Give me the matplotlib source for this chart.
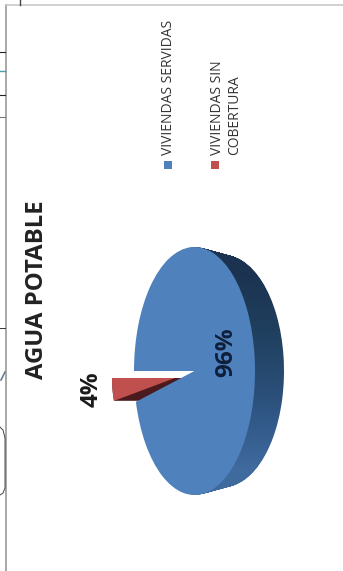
import numpy as np
import matplotlib
matplotlib.use('Agg')
import matplotlib.pyplot as plt
from matplotlib.path import Path
from matplotlib.patches import Rectangle
from matplotlib.transforms import Affine2D

# data
shares = [4, 96]
share_labels = ['4%', '96%']
legend_labels = ['VIVIENDAS SERVIDAS', 'VIVIENDAS SIN\nCOBERTURA']
title = 'AGUA POTABLE'

plt.rcParams['font.family'] = ['Open Sans', 'DejaVu Sans']

fig = plt.figure(figsize=(3.43, 5.71), dpi=100)
ax = fig.add_axes([0, 0, 1, 1])


def pie_at(cx, cy, rx, ry, colors, z):
    # draw the pie then squash it into an ellipse, pixel units (y axis points down)
    wedges, _ = ax.pie(shares, startangle=180, counterclock=False, colors=colors)
    tr = Affine2D().scale(rx, ry).translate(cx, cy)
    for w in wedges:
        w.set_transform(tr + ax.transData)
        w.set_zorder(z)
        w.set_linewidth(0)
    return wedges, tr


cx, cy, rx, ry = 194.5, 371, 60.5, 124
depth = 29

# side of the disc: union of shifted copies, filled with a vertical gradient
side_paths = []
for d in range(1, depth + 1):
    k = d / depth
    wedges, tr = pie_at(cx + d, cy, rx, ry - 8 * k, ['none', 'none'], 1)
    side_paths.append(wedges[1].get_patch_transform().transform_path(wedges[1].get_path()).transformed(tr))
    for w in wedges:
        w.set_visible(False)
side = Path.make_compound_path(*side_paths)

grad = np.array([[0.0], [0.35], [0.6], [1.0]])
cmap = matplotlib.colors.LinearSegmentedColormap.from_list('side', ['#1b3350', '#20405f', '#2f5684', '#3f6a9e'])
im = ax.imshow(grad, extent=[130, 290, 500, 240], cmap=cmap, aspect='auto', zorder=1, interpolation='bilinear')
im.set_clip_path(side, transform=ax.transData)

# exploded slice: dark side first, then blue face, then red face
red_cx, red_cy, red_ry = 175, 378, 92
for d in range(0, 27):
    wedges, _ = pie_at(red_cx + d, red_cy, 63, red_ry, ['#4a1a1c', 'none'], 2)
    wedges[1].set_visible(False)

wedges, _ = pie_at(cx, cy, rx, ry, ['none', '#4f81bd'], 3)
wedges[0].set_visible(False)

wedges, _ = pie_at(red_cx, red_cy, 63, red_ry, ['#c0504d', 'none'], 4)
wedges[1].set_visible(False)

ax.set_xlim(0, 343)
ax.set_ylim(571, 0)
ax.set_aspect('auto')
ax.axis('off')

# percentages
ax.text(92, 389, share_labels[0], rotation=90, ha='center', va='center', fontsize=17.5, fontweight='bold', color='#1a1a1a', zorder=5)
ax.text(226, 352, share_labels[1], rotation=90, ha='center', va='center', fontsize=17.5, fontweight='bold', color='#0f1f3a', zorder=5)

ax.text(37, 290, title, rotation=90, ha='center', va='center', fontsize=17.2, fontweight='bold', color='#222222')

# legend
ax.add_patch(Rectangle((164, 161), 8, 8, color='#4f81bd', lw=0))
ax.add_patch(Rectangle((211, 161), 8, 8, color='#c0504d', lw=0))
ax.text(169, 155, legend_labels[0], rotation=90, ha='center', va='bottom', fontsize=10, color='#333333')
ax.text(226, 155, legend_labels[1], rotation=90, ha='center', va='bottom', fontsize=10, color='#333333', multialignment='left', linespacing=1.2)

# scraps of the page around the chart frame
ax.plot([6, 6], [5, 571], color='#a8a8a8', lw=1.4)
ax.plot([6, 343], [5, 5], color='#c8c8c8', lw=1.2)
ax.plot([20, 20], [0, 5], color='#444444', lw=1)
ax.plot([0, 5], [52, 52], color='#222222', lw=0.8)
ax.plot([0, 5], [95, 95], color='#222222', lw=0.8)
ax.plot([0, 5], [117, 117], color='#777777', lw=0.8)
ax.plot([0, 5], [71, 71], color='#4a9ab0', lw=1)
ax.plot([0, 5], [328, 328], color='#333333', lw=0.7)
ax.plot([1, 5], [380, 372], color='#6a7f95', lw=1.2)
ax.plot([0, 3, 5, 5, 3, 0], [427, 430, 438, 488, 493, 495], color='#444444', lw=0.7)

plt.savefig('out.png', dpi=100)
